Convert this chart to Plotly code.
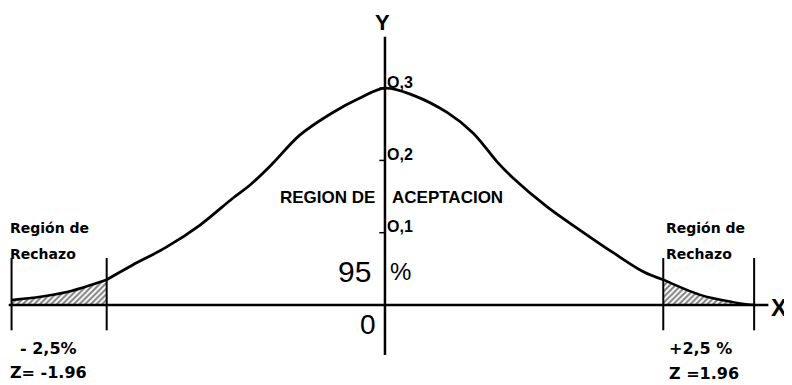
import plotly.graph_objects as go

# DATA====================================================== #
# curve points, x in Z units, y in density units
left_tail_x = [-2.63, -2.48, -2.24, -1.96]
left_tail_y = [0.007, 0.010, 0.018, 0.035]

center_x = [-1.96, -1.78, -1.54, -1.30, -1.07, -0.95, -0.79, -0.60, -0.37, -0.18, 0.0,
            0.20, 0.44, 0.62, 0.79, 0.90, 1.14, 1.37, 1.61, 1.82, 1.96]
center_y = [0.035, 0.055, 0.080, 0.111, 0.148, 0.166, 0.196, 0.235, 0.266, 0.286, 0.300,
            0.290, 0.266, 0.238, 0.198, 0.176, 0.136, 0.104, 0.072, 0.046, 0.035]

right_tail_x = [1.96, 2.22, 2.45, 2.60]
right_tail_y = [0.035, 0.014, 0.004, 0.0]

critical_z = [-1.96, 1.96]
outer_z = [-2.63, 2.60]
y_ticks = [0.1, 0.2, 0.3]
y_tick_labels = ['O,1', 'O,2', 'O,3']

# GRAPH===================================================== #
fig = go.Figure()

for tx, ty in [(left_tail_x, left_tail_y), (right_tail_x, right_tail_y)]:
    fig.add_trace(go.Scatter(
        x=tx, y=ty, mode='lines', fill='tozeroy',
        line=dict(color='black', width=2.5, shape='spline'),
        fillcolor='white',
        fillpattern=dict(shape='/', fgcolor='black', bgcolor='white', size=4, solidity=0.5),
        hoverinfo='skip'
    ))

fig.add_trace(go.Scatter(
    x=center_x, y=center_y, mode='lines',
    line=dict(color='black', width=2.8, shape='spline', smoothing=1.0),
    hoverinfo='skip'
))

# axes drawn by hand
fig.add_shape(type='line', x0=-2.65, x1=2.70, y0=0, y1=0, line=dict(color='black', width=2.5))
fig.add_shape(type='line', x0=0, x1=0, y0=-0.069, y1=0.371, line=dict(color='black', width=2.5))
for t in y_ticks:
    fig.add_shape(type='line', x0=-0.04, x1=0, y0=t, y1=t, line=dict(color='black', width=1.5))
for z in critical_z + outer_z:
    fig.add_shape(type='line', x0=z, x1=z, y0=-0.035, y1=0.065, line=dict(color='black', width=2))

# TEXT====================================================== #
wide = 'DejaVu Sans, Verdana'
bold = 'Liberation Sans, Arial'


def note(x, y, text, size, anchor='left', family=bold, weight='bold'):
    fig.add_annotation(x=x, y=y, text=text, showarrow=False, xanchor=anchor, yanchor='middle',
                       borderpad=0, font=dict(family=family, size=size, color='black', weight=weight))


for t, lab in zip(y_ticks, y_tick_labels):
    note(0.01, t + 0.008, lab, 16)

note(-0.015, 0.391, 'Y', 22, anchor='center')
note(2.71, -0.003, 'X', 24)
note(-0.065, 0.149, 'REGION DE', 17, anchor='right')
note(0.045, 0.149, 'ACEPTACION', 17)
note(-0.09, 0.047, '95', 30, anchor='right', weight='normal')
note(0.03, 0.047, '%', 24, weight='normal')
note(-0.12, -0.027, '0', 28, anchor='center', weight='normal')

note(-2.645, 0.106, 'Región de', 14, family=wide)
note(-2.645, 0.071, 'Rechazo', 14, family=wide)
note(1.97, 0.106, 'Región de', 14, family=wide)
note(1.97, 0.071, 'Rechazo', 14, family=wide)
note(-2.58, -0.060, '- 2,5%', 16, family=wide)
note(-2.645, -0.093, 'Z= -1.96', 16, family=wide)
note(1.99, -0.060, '+2,5 %', 16, family=wide)
note(1.99, -0.095, 'Z =1.96', 16, family=wide)

# LAYOUT==================================================== #
# page puts the plot 8px in from the corner, ranges shifted to match
fig.update_layout(
    width=792, height=385,
    margin=dict(l=0, r=0, t=0, b=0),
    plot_bgcolor='white',
    paper_bgcolor='white',
    showlegend=False,
    xaxis=dict(range=[-2.655, 2.923], visible=False),
    yaxis=dict(range=[-0.1217, 0.4108], visible=False)
)

fig.write_html("out.html")
